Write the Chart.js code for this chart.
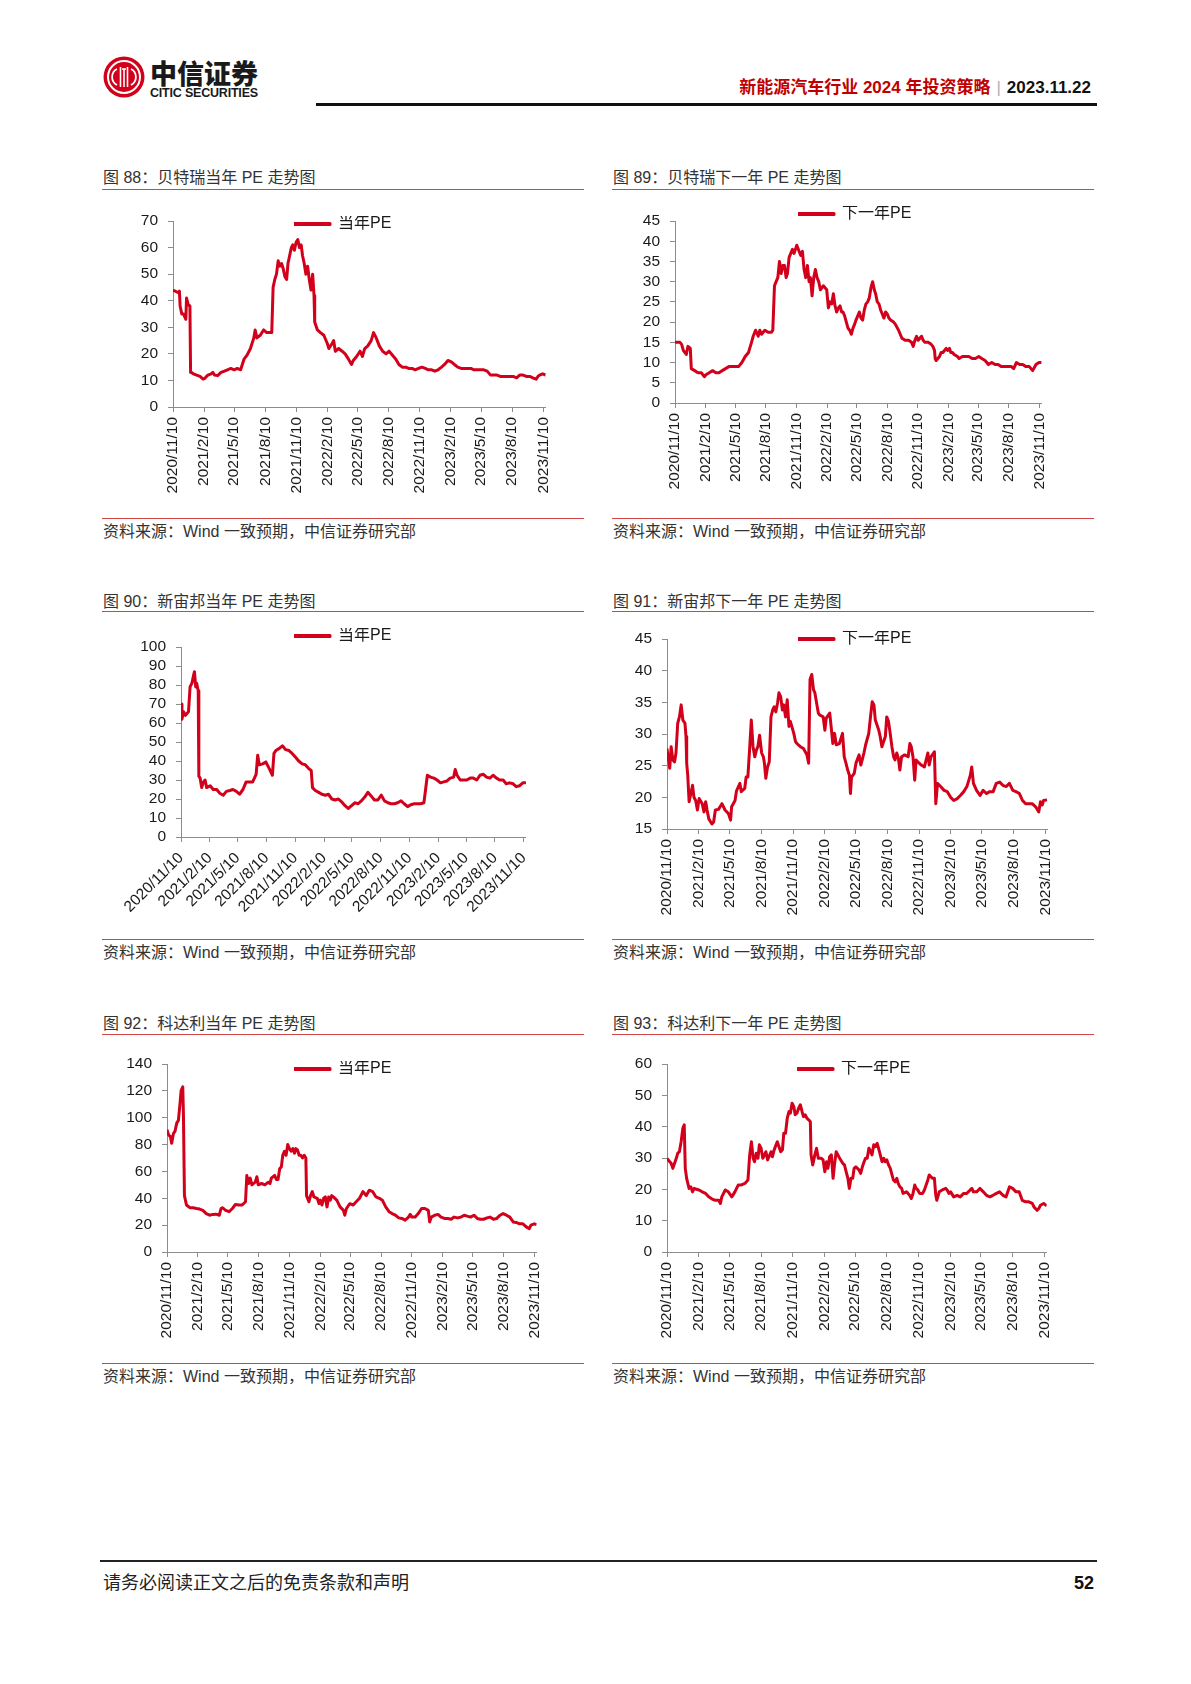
<!DOCTYPE html>
<html lang="zh-CN">
<head>
<meta charset="utf-8">
<title>新能源汽车行业 2024 年投资策略 - 52</title>
<script src="https://cdn.jsdelivr.net/npm/chart.js@4.4.1/dist/chart.umd.min.js"></script>
<style>
  html, body { margin: 0; padding: 0; background: #fff; }
  body {
    width: 1191px; height: 1684px; position: relative; overflow: hidden;
    font-family: "Liberation Sans", "Noto Sans CJK SC", sans-serif; color: #2b2b2b;
  }
  .abs { position: absolute; white-space: nowrap; }
  .logo-cn { left: 150px; top: 57px; font-size: 27px; line-height: 32px; font-weight: 900; color: #1a1a1a;
             font-family: "Noto Sans CJK SC", sans-serif; }
  .logo-en { left: 150px; top: 86px; font-size: 12.5px; line-height: 15px; font-weight: bold; color: #1a1a1a;
             font-family: "Liberation Sans Narrow", "Liberation Sans", sans-serif; letter-spacing: -0.2px; }
  .hdr { right: 100px; top: 76px; font-size: 17px; line-height: 24px; font-weight: bold; }
  .hdr .red { color: #c00000; }
  .hdr .sep { color: #b0b0b0; font-weight: normal; margin: 0 6px; }
  .hdr .date { color: #111; }
  .hdr-line { left: 316px; top: 103px; width: 781px; height: 3px; background: #111; }
  .title, .source { font-size: 16px; line-height: 20px; color: #333; }
  .rule { height: 1px; width: 482px; background: #d04545; }
  .foot-line { left: 100px; top: 1560px; width: 997px; height: 1.5px; background: #222; }
  .foot { left: 103px; top: 1572px; font-size: 18px; line-height: 22px; color: #222; }
  .page { right: 97px; top: 1572px; font-size: 18px; line-height: 22px; font-weight: bold; color: #111; }
  .chart-box { position: absolute; }
</style>
</head>
<body>

<svg class="abs" style="left:103px;top:56px" width="42" height="42" viewBox="0 0 42 42">
  <circle cx="21" cy="21" r="20.5" fill="#d2001a"/>
  <circle cx="21" cy="21" r="16" fill="none" stroke="#fff" stroke-width="2"/>
  <path d="M14 13 a9 9 0 0 0 0 16" fill="none" stroke="#fff" stroke-width="1.8"/>
  <path d="M28 13 a9 9 0 0 1 0 16" fill="none" stroke="#fff" stroke-width="1.8"/>
  <path d="M17.5 11 v20 M24.5 11 v20 M19 13 h4 M21 13 v18" fill="none" stroke="#fff" stroke-width="1.6"/>
</svg>
<div class="abs logo-cn">中信证券</div>
<div class="abs logo-en">CITIC SECURITIES</div>

<div class="abs hdr"><span class="red">新能源汽车行业 2024 年投资策略</span><span class="sep">|</span><span class="date">2023.11.22</span></div>
<div class="abs hdr-line"></div>

<div class="abs title" style="left:103px;top:168px">图 88：贝特瑞当年 PE 走势图</div>
<div class="abs title" style="left:613px;top:168px">图 89：贝特瑞下一年 PE 走势图</div>
<div class="abs rule" style="left:102px;top:189px"></div>
<div class="abs rule" style="left:612px;top:189px"></div>
<div class="abs rule" style="left:102px;top:518px"></div>
<div class="abs rule" style="left:612px;top:518px"></div>
<div class="abs source" style="left:103px;top:522px">资料来源：Wind 一致预期，中信证券研究部</div>
<div class="abs source" style="left:613px;top:522px">资料来源：Wind 一致预期，中信证券研究部</div>

<div class="abs title" style="left:103px;top:592px">图 90：新宙邦当年 PE 走势图</div>
<div class="abs title" style="left:613px;top:592px">图 91：新宙邦下一年 PE 走势图</div>
<div class="abs rule" style="left:102px;top:611px"></div>
<div class="abs rule" style="left:612px;top:611px"></div>
<div class="abs rule" style="left:102px;top:939px"></div>
<div class="abs rule" style="left:612px;top:939px"></div>
<div class="abs source" style="left:103px;top:943px">资料来源：Wind 一致预期，中信证券研究部</div>
<div class="abs source" style="left:613px;top:943px">资料来源：Wind 一致预期，中信证券研究部</div>

<div class="abs title" style="left:103px;top:1014px">图 92：科达利当年 PE 走势图</div>
<div class="abs title" style="left:613px;top:1014px">图 93：科达利下一年 PE 走势图</div>
<div class="abs rule" style="left:102px;top:1034px"></div>
<div class="abs rule" style="left:612px;top:1034px"></div>
<div class="abs rule" style="left:102px;top:1363px"></div>
<div class="abs rule" style="left:612px;top:1363px"></div>
<div class="abs source" style="left:103px;top:1367px">资料来源：Wind 一致预期，中信证券研究部</div>
<div class="abs source" style="left:613px;top:1367px">资料来源：Wind 一致预期，中信证券研究部</div>

<div class="abs foot-line"></div>
<div class="abs foot">请务必阅读正文之后的免责条款和声明</div>
<div class="abs page">52</div>

<script>
// x axis: days counted from 2020/11/10, quarterly tick marks
const tickDays = [0, 92, 181, 273, 365, 457, 546, 638, 730, 822, 911, 1003, 1095];
const tickLabels = ['2020/11/10', '2021/2/10', '2021/5/10', '2021/8/10', '2021/11/10', '2022/2/10',
    '2022/5/10', '2022/8/10', '2022/11/10', '2023/2/10', '2023/5/10', '2023/8/10', '2023/11/10'];
const X_MAX = 1102;

// 贝特瑞 当年PE (day offset, value)
const btrCurDays = [0, 16, 19, 21, 26, 31, 38, 40, 45, 50, 52, 55, 60, 70, 80, 89, 94, 103, 113, 118,
    123, 132, 142, 152, 161, 171, 181, 190, 200, 210, 219, 229, 239, 243, 248, 258, 268, 277, 292, 296,
    301, 306, 311, 316, 321, 326, 331, 336, 340, 345, 350, 354, 359, 364, 369, 374, 379, 383, 388, 393,
    398, 403, 408, 413, 417, 419, 427, 436, 446, 456, 461, 471, 475, 480, 490, 500, 509, 519, 528, 533,
    543, 553, 560, 567, 576, 586, 593, 601, 610, 620, 630, 639, 649, 659, 668, 678, 688, 697, 707, 716,
    726, 736, 746, 755, 765, 774, 784, 794, 803, 813, 823, 832, 842, 852, 861, 871, 881, 890, 900, 910,
    919, 929, 939, 948, 958, 968, 977, 987, 997, 1006, 1016, 1025, 1035, 1045, 1055, 1064, 1074, 1079, 1084, 1093, 1102];
const btrCurPE = [44, 43, 43.6, 38, 35, 35, 33, 41, 38.5, 38, 13, 13, 12.5, 12, 11.5, 10.5, 10.8, 12, 12.5, 13,
    12, 11.8, 13, 13.5, 14, 14.5, 14, 14.5, 14, 18, 19.5, 22, 26, 29, 26, 27, 29, 28, 28, 45,
    48, 50, 55, 53, 54, 52, 49, 48, 54, 57, 60, 61, 59, 62, 63, 60, 61, 57, 54, 50,
    53, 48, 44, 50, 42, 32, 29, 28, 27, 24, 22, 24, 25, 21, 22, 21, 20, 18, 16, 17.5,
    19, 21, 19, 22, 23, 25, 28, 26, 23, 21, 20, 21, 19.5, 18, 16, 15, 15, 14.5, 14.5, 14,
    14.5, 15, 14.5, 14, 14, 13.5, 14, 15, 16, 17.5, 17, 16, 15, 14.5, 14.5, 14.5, 14.5, 14, 14, 14,
    14, 13.5, 12, 12, 12, 11.5, 11.5, 11.5, 11.5, 11.5, 11, 12, 12, 11.5, 11.5, 11, 10.5, 11.5, 12, 12.5, 12];

// 贝特瑞 下一年PE
const btrNextDays = [0, 15, 20, 25, 34, 39, 46, 49, 59, 69, 79, 88, 93, 103, 113, 123, 132, 142, 152, 162,
    172, 181, 191, 201, 211, 221, 230, 235, 242, 250, 255, 260, 270, 280, 290, 294, 299, 304, 309, 314,
    319, 324, 329, 334, 338, 343, 348, 353, 358, 366, 373, 378, 383, 388, 393, 398, 403, 407, 412, 417,
    422, 427, 432, 437, 446, 456, 461, 466, 471, 476, 481, 486, 491, 496, 501, 505, 510, 515, 520, 525,
    530, 535, 540, 544, 554, 559, 564, 569, 574, 579, 584, 589, 594, 599, 603, 608, 613, 618, 623, 628,
    633, 638, 643, 648, 657, 662, 672, 677, 682, 692, 702, 711, 716, 721, 726, 731, 736, 741, 746, 751,
    761, 770, 775, 780, 782, 785, 790, 795, 800, 805, 810, 815, 820, 825, 829, 834, 839, 849, 854, 864,
    873, 883, 893, 903, 913, 922, 932, 942, 952, 962, 971, 981, 991, 1001, 1011, 1018, 1026, 1036, 1045, 1055,
    1065, 1075, 1085, 1094, 1102];
const btrNextPE = [15, 15, 14.5, 13, 12, 14, 13.5, 8.5, 8, 7.5, 7.5, 6.5, 7, 7.5, 8, 7.5, 7.5, 8, 8.5, 9,
    9, 9, 9, 10, 11.5, 12.5, 15, 16.5, 18, 16.5, 18, 17, 18, 17.5, 17.5, 18, 29, 30, 31, 35,
    32, 34, 34, 31, 32, 36, 37, 38, 37, 39, 37.5, 36.5, 37.5, 33, 31, 34, 30, 31, 26.5, 31,
    33, 31, 30, 28, 29, 28, 23.5, 25, 24.5, 27, 24, 22.5, 23.5, 24, 22.5, 22.5, 21.5, 20, 18.5, 18,
    17, 18.5, 19.5, 20.5, 22.5, 21, 20.5, 23, 24.5, 25, 26, 28.5, 30, 28, 27, 25, 24.5, 23, 22, 21,
    22.5, 22, 21, 20.5, 20, 19.5, 18, 17, 16, 15.5, 15.5, 15, 14, 15.5, 16.5, 15.5, 16, 16.5, 15.5, 15,
    15, 14.5, 14, 13, 11, 10.5, 11, 11.5, 12.5, 12.5, 13, 13.5, 13, 13.5, 12.5, 12.5, 12, 11.5, 11, 11.5,
    11.5, 11.5, 11, 11, 11.5, 11, 10.5, 9.5, 10, 9.5, 9.5, 9, 9, 9, 9, 8.5, 10, 9.5, 9.5, 9,
    9, 8, 9.5, 10, 10];

// 新宙邦 当年PE
const xzbCurDays = [0, 3, 8, 14, 19, 24, 29, 35, 40, 43, 47, 50, 55, 57, 61, 66, 72, 77, 82, 93,
    103, 114, 124, 135, 145, 156, 166, 177, 187, 198, 208, 219, 229, 240, 245, 250, 261, 271, 282, 292,
    297, 303, 313, 324, 334, 345, 355, 366, 376, 387, 397, 408, 416, 420, 429, 440, 450, 461, 471, 482,
    492, 503, 513, 524, 534, 545, 555, 566, 576, 587, 597, 608, 618, 629, 640, 650, 661, 671, 682, 692,
    703, 713, 724, 734, 745, 755, 766, 776, 781, 787, 797, 808, 818, 829, 839, 850, 860, 871, 876, 882,
    892, 903, 913, 924, 934, 945, 955, 966, 976, 987, 997, 1008, 1018, 1029, 1039, 1050, 1061, 1071, 1082, 1092, 1102];
const xzbCurPE = [70, 62, 66, 64, 65, 66, 79, 81, 85, 87, 79, 81, 77, 32, 31, 26, 29, 30, 26, 27,
    25, 25, 23, 22, 24, 24.5, 25, 24, 22.5, 25, 29, 29, 29, 33, 43, 38, 38.5, 39.5, 36, 32.5,
    44, 45.5, 46.5, 48, 46, 45.5, 44, 42, 40, 38.5, 38, 36, 35, 26, 24.5, 23.5, 22.5, 22, 22.5, 20,
    19.5, 20, 18.5, 16.5, 15, 16.5, 18, 17.5, 19, 21, 23.5, 21.5, 19.5, 19.5, 22, 19, 18, 17.5, 17.5, 18,
    19, 17.5, 16, 17, 17.5, 17.5, 17.5, 18, 24.5, 32.5, 31.5, 31, 30, 28.5, 29, 29.5, 31, 31.5, 35.5, 32.5,
    30, 30, 30, 31, 31, 30, 32.5, 33, 31.5, 31, 32.5, 31, 30, 30, 28, 28.5, 28, 26.5, 27, 28.5, 28.5];

// 新宙邦 下一年PE
const xzbNextDays = [0, 3, 8, 12, 17, 22, 26, 31, 36, 41, 46, 52, 55, 57, 60, 64, 69, 74, 78, 83,
    88, 93, 102, 107, 112, 116, 121, 130, 135, 140, 149, 159, 168, 178, 184, 187, 197, 201, 211, 215,
    225, 229, 234, 239, 244, 249, 254, 259, 263, 268, 274, 279, 282, 286, 291, 296, 301, 306, 310, 315,
    320, 324, 329, 334, 338, 343, 348, 353, 357, 367, 372, 376, 386, 395, 405, 410, 414, 419, 424, 428,
    433, 438, 442, 452, 457, 461, 471, 475, 480, 485, 490, 499, 508, 513, 518, 523, 528, 531, 534, 542,
    547, 556, 561, 565, 570, 575, 584, 589, 594, 599, 603, 613, 617, 622, 632, 636, 641, 646, 651, 656,
    660, 665, 670, 674, 679, 688, 698, 703, 707, 712, 717, 721, 726, 736, 745, 755, 759, 764, 774, 778,
    783, 792, 802, 811, 821, 830, 840, 849, 859, 868, 878, 882, 887, 896, 906, 915, 925, 934, 944, 953,
    963, 972, 982, 991, 1001, 1010, 1020, 1029, 1038, 1048, 1057, 1067, 1076, 1081, 1086, 1090, 1100];
const xzbNextPE = [27.7, 26.4, 24.6, 28, 25.9, 25.6, 27, 31.7, 32.7, 34.6, 32.2, 31.7, 29.6, 25.4, 23.5, 19.3, 20.6, 21.9, 20, 19.5,
    18, 19.8, 19, 17.7, 19.3, 18, 16.6, 15.8, 16.1, 18, 18.1, 19, 18, 17.4, 16.4, 18.5, 19.5, 21, 22.2, 20.9,
    21.4, 23.2, 23.2, 27.5, 32.2, 28, 26.4, 27.5, 28, 29.8, 27, 26.4, 25.4, 23, 24.8, 25.6, 32.7, 33.8, 34.3, 33.5,
    34.9, 36.5, 35.9, 33.8, 34.6, 32.7, 35.4, 31.2, 32, 30.1, 28.8, 28.5, 28, 27.7, 26.7, 25.4, 38.6, 39.4, 37, 36.5,
    34.9, 33.3, 33, 32.7, 30.6, 32.5, 33.3, 31.2, 28.5, 30.1, 28.3, 28.5, 30.1, 26.4, 25.4, 24.3, 23.5, 20.6, 23.2, 23.8,
    25.4, 26.7, 25.1, 25.9, 27, 28.3, 30.1, 32.7, 35.1, 34.6, 32.2, 30.6, 29.6, 28, 29.6, 32.7, 32, 30.1, 28, 26.4,
    25.9, 27, 26.1, 24.3, 26.4, 26.7, 26.4, 28.5, 28, 26.4, 22.7, 25.9, 25.6, 25.1, 24.8, 27, 25.1, 26.4, 27.2, 19,
    22.2, 21.7, 21.1, 20.9, 20, 19.5, 19.8, 20.3, 20.9, 21.7, 23.5, 24.8, 22.2, 21.1, 20.3, 21.1, 20.6, 20.9, 20.9, 22.2,
    22.4, 21.9, 21.7, 22.2, 21.1, 20.9, 20.6, 19.5, 19, 19, 19, 18.5, 17.7, 19.3, 18.8, 19.5, 19.6];

// 科达利 当年PE
const kdlCurDays = [0, 5, 10, 14, 19, 24, 29, 34, 39, 42, 47, 49, 52, 58, 68, 78, 88, 97, 107, 117,
    127, 136, 146, 156, 161, 165, 175, 185, 195, 204, 214, 224, 234, 238, 243, 248, 253, 263, 268, 272,
    282, 292, 302, 307, 311, 321, 326, 331, 336, 341, 345, 350, 355, 360, 365, 370, 375, 380, 384, 389,
    394, 399, 404, 409, 414, 416, 423, 428, 433, 438, 448, 453, 457, 462, 467, 472, 477, 482, 487, 491,
    496, 506, 516, 526, 530, 535, 545, 555, 564, 574, 584, 594, 603, 613, 623, 633, 642, 652, 662, 671,
    681, 691, 700, 710, 720, 725, 730, 740, 749, 759, 769, 779, 783, 788, 798, 808, 817, 827, 837, 847,
    856, 866, 876, 886, 895, 905, 915, 925, 934, 944, 954, 963, 973, 983, 993, 1002, 1012, 1022, 1032, 1041,
    1051, 1061, 1071, 1080, 1085, 1095, 1102];
const kdlCurPE = [91, 87, 86, 81, 88, 90, 96, 98, 111, 120, 123, 102, 42, 35, 33, 33, 32.4, 32, 31, 28.6,
    27.4, 28, 28.2, 27.4, 32.4, 33, 31, 30, 32.4, 35.4, 35, 35, 37.4, 57, 51, 55, 50, 52, 56, 50,
    51, 50, 52, 51, 55, 57, 54, 54, 62, 63.5, 72, 75, 72, 80, 77, 75, 77, 73.5, 77, 76,
    72, 72, 70, 72, 70, 42, 37.4, 42, 45, 41, 40, 36, 38.6, 35, 40, 41, 33.6, 41, 38.6, 42,
    41, 38.6, 33.6, 31, 27.4, 32.4, 36, 35, 37.4, 40, 45, 42, 46, 45, 41, 40, 38.6, 33.6, 30, 28.6,
    27.4, 25.4, 25, 23.7, 26, 28, 26, 26, 28.6, 32.4, 32.4, 31, 22.4, 26, 27.4, 28, 26, 25, 25, 24.4,
    26, 25.4, 26, 27.4, 26.7, 26, 27.4, 25, 24.4, 24.4, 25.4, 26, 24.4, 25, 27.4, 28.6, 27.4, 26, 22.4, 22,
    21, 21, 18.7, 17.4, 20, 21, 20.4];

// 科达利 下一年PE
const kdlNextDays = [0, 8, 12, 17, 22, 27, 31, 36, 41, 46, 50, 53, 57, 64, 69, 74, 79, 83, 93, 102,
    112, 121, 131, 140, 150, 155, 159, 169, 178, 188, 197, 202, 207, 216, 226, 235, 240, 245, 250, 254,
    259, 264, 268, 273, 278, 283, 287, 292, 302, 306, 311, 320, 325, 330, 335, 339, 344, 349, 354, 358,
    363, 368, 372, 377, 382, 387, 392, 396, 401, 406, 411, 416, 418, 423, 429, 434, 439, 448, 453, 458,
    463, 467, 472, 477, 482, 486, 491, 496, 501, 510, 515, 520, 525, 529, 534, 539, 543, 548, 557, 562,
    567, 572, 576, 581, 586, 591, 595, 600, 605, 610, 614, 619, 624, 629, 633, 638, 643, 648, 653, 657,
    662, 667, 671, 676, 681, 685, 695, 704, 709, 714, 719, 723, 728, 733, 742, 747, 752, 757, 761, 766,
    771, 776, 780, 783, 790, 799, 809, 813, 818, 823, 832, 842, 851, 861, 870, 880, 885, 889, 899, 908,
    918, 927, 937, 946, 956, 965, 975, 984, 994, 1003, 1013, 1022, 1031, 1041, 1050, 1060, 1065, 1074, 1079, 1084,
    1093, 1102];
const kdlNextPE = [29.9, 28.8, 28.3, 26.7, 28.3, 29.9, 31.5, 32, 35.2, 39.5, 40.6, 26.7, 23.5, 20.3, 20.8, 19.2, 20.3, 20.1, 19.8, 19.2,
    18.7, 17.6, 16.9, 16.5, 16.5, 15.5, 17.6, 19.8, 19.2, 17.6, 19.2, 20.3, 21.4, 21.4, 21.9, 23, 31, 35.2, 29.9, 28.8,
    31.5, 29.9, 34.2, 33.1, 29.9, 31, 32, 29.4, 32, 30.4, 32.6, 35.2, 33.6, 32, 32.6, 37.9, 37.9, 42.7, 44.8, 44.3,
    47.5, 46.4, 43.8, 44.3, 45.9, 47, 44.8, 43.2, 43.8, 42.7, 42.2, 41.6, 31, 27.8, 31, 33.1, 29.9, 29.9, 29.4, 25.6,
    28.8, 26.7, 30.4, 31, 23.5, 27.8, 32, 31, 29.9, 28.3, 27.8, 25.6, 23.5, 20.3, 23.5, 23.5, 26.7, 27.2, 26.2, 25.1,
    27.2, 28.8, 29.9, 29.9, 33.1, 32, 31, 34.2, 33.6, 34.7, 33.1, 31, 28.8, 29.9, 28.8, 29.4, 27.8, 26.7, 24.6, 23,
    22.4, 23.5, 21.9, 20.8, 20.3, 18.7, 19.2, 18.1, 17.1, 18.7, 21.4, 20.3, 19.8, 18.7, 18.7, 19.8, 21.4, 23, 24.6, 24,
    23.5, 23.5, 18.1, 16.5, 19.2, 19.8, 20.3, 19.8, 18.7, 19.2, 17.6, 18.1, 17.6, 18.7, 18.7, 19.8, 20.3, 19.2, 19.2, 20.3,
    19.2, 18.1, 17.6, 18.1, 18.7, 19.2, 18.1, 17.6, 20.8, 20.3, 19.2, 19.2, 16.5, 16, 16, 15.5, 14.4, 13.3, 13.9, 14.9,
    15.5, 14.7];

const LINE_RED = '#d2001a';
const AXIS_GREY = '#8c8c8c';
const TEXT_DARK = '#1a1a1a';
const TICK_FONT = { family: '"Liberation Sans", Arial, sans-serif', size: 15.5 };
const LEGEND_FONT = { family: '"Liberation Sans", "Noto Sans CJK SC", sans-serif', size: 16 };

// page geometry of each plot area (left/right/top/bottom in px) and its legend anchor
const panels = [
    { label: '当年PE', days: btrCurDays, values: btrCurPE, yMin: 0, yMax: 70, yStep: 10, l: 173, r: 553, t: 221, b: 407, legX: 294, legY: 224, rot: 90 },
    { label: '下一年PE', days: btrNextDays, values: btrNextPE, yMin: 0, yMax: 45, yStep: 5, l: 675, r: 1049, t: 221, b: 403, legX: 798, legY: 214, rot: 90 },
    { label: '当年PE', days: xzbCurDays, values: xzbCurPE, yMin: 0, yMax: 100, yStep: 10, l: 181, r: 530, t: 647, b: 837, legX: 294, legY: 636, rot: 45 },
    { label: '下一年PE', days: xzbNextDays, values: xzbNextPE, yMin: 15, yMax: 45, yStep: 5, l: 667, r: 1055, t: 639, b: 829, legX: 798, legY: 639, rot: 90 },
    { label: '当年PE', days: kdlCurDays, values: kdlCurPE, yMin: 0, yMax: 140, yStep: 20, l: 167, r: 544, t: 1064, b: 1252, legX: 294, legY: 1069, rot: 90 },
    { label: '下一年PE', days: kdlNextDays, values: kdlNextPE, yMin: 0, yMax: 60, yStep: 10, l: 667, r: 1054, t: 1064, b: 1252, legX: 797, legY: 1069, rot: 90 }
];

const PAD_L = 80, PAD_T = 40, PAD_R = 14, AXIS_H = 110;

// moves the built-in legend to a fixed spot inside the plot, like the Excel original
const legendPlacer = {
    id: 'legendPlacer',
    afterLayout(chart, args, opts) {
        const lg = chart.legend;
        if (!lg) return;
        lg.left = opts.x;
        lg.top = opts.y - LEGEND_FONT.size / 2;
        lg.right = lg.left + 200;
        lg.bottom = lg.top + 40;
        lg.width = 200;
        lg.height = 40;
    }
};

function axisCommon() {
    return {
        grid: { drawOnChartArea: false, drawTicks: true, tickLength: 5, color: AXIS_GREY, lineWidth: 1 },
        border: { display: true, color: AXIS_GREY, width: 1 }
    };
}

panels.forEach(p => {
    const box = document.createElement('div');
    box.className = 'chart-box';
    const left = p.l - PAD_L, top = p.t - PAD_T;
    box.style.left = left + 'px';
    box.style.top = top + 'px';
    box.style.width = (p.r - p.l + PAD_L + PAD_R) + 'px';
    box.style.height = (p.b - p.t + PAD_T + AXIS_H) + 'px';
    const canvas = document.createElement('canvas');
    box.appendChild(canvas);
    document.body.appendChild(box);

    new Chart(canvas, {
        type: 'line',
        data: {
            datasets: [{
                label: p.label,
                data: p.days.map((d, i) => ({ x: d, y: p.values[i] })),
                borderColor: LINE_RED,
                backgroundColor: LINE_RED,
                borderWidth: 3,
                borderJoinStyle: 'round',
                pointRadius: 0,
                tension: 0,
                fill: false
            }]
        },
        options: {
            responsive: true,
            maintainAspectRatio: false,
            animation: false,
            events: [],
            layout: { padding: { left: 0, top: PAD_T, right: PAD_R, bottom: 0 } },
            scales: {
                x: {
                    type: 'linear',
                    min: 0,
                    max: X_MAX,
                    afterBuildTicks: s => { s.ticks = tickDays.map(v => ({ value: v })); },
                    afterFit: s => { s.height = AXIS_H; },
                    ticks: {
                        autoSkip: false,
                        minRotation: p.rot,
                        maxRotation: p.rot,
                        padding: p.rot === 90 ? 5 : 7,
                        font: TICK_FONT,
                        color: TEXT_DARK,
                        callback: (v, i) => tickLabels[i]
                    },
                    ...axisCommon()
                },
                y: {
                    min: p.yMin,
                    max: p.yMax,
                    afterFit: s => { s.width = PAD_L; },
                    ticks: { stepSize: p.yStep, autoSkip: false, padding: 10, font: TICK_FONT, color: TEXT_DARK },
                    ...axisCommon()
                }
            },
            plugins: {
                legend: {
                    position: 'chartArea',
                    align: 'start',
                    labels: { boxWidth: 36, boxHeight: 1.2, padding: 0, font: LEGEND_FONT, color: TEXT_DARK }
                },
                tooltip: { enabled: false },
                legendPlacer: { x: p.legX - left, y: p.legY - top }
            }
        },
        plugins: [legendPlacer]
    });
});
</script>
</body>
</html>
